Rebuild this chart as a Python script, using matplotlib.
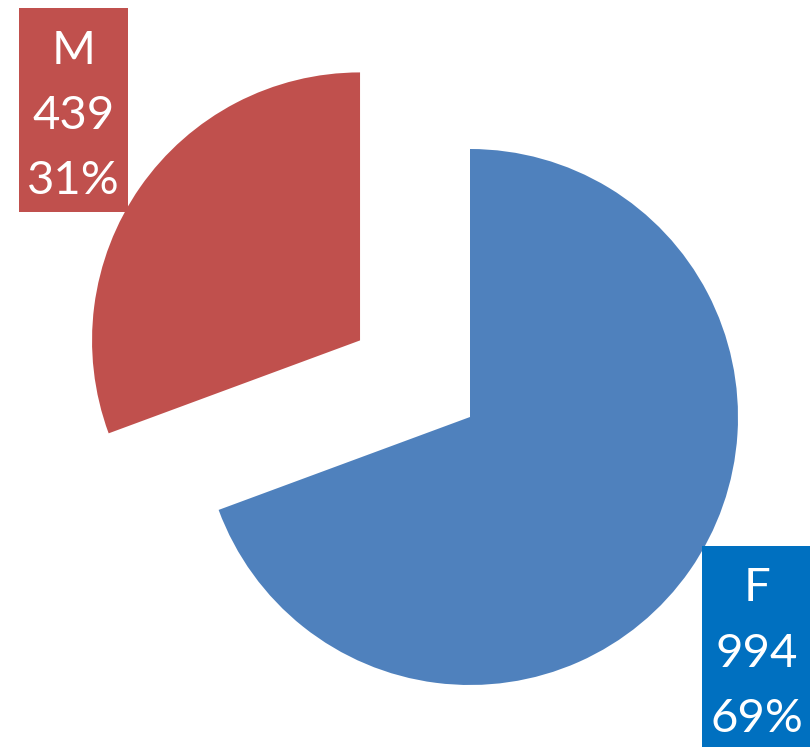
import matplotlib.pyplot as plt
from matplotlib.patches import Rectangle

# data
genders = ['F', 'M']
counts = [994, 439]
slice_colors = ['#4F81BD', '#C0504D']
box_colors = ['#0070C0', '#C0504D']

W, H = 810, 747
R = 268
fig = plt.figure(figsize=(W / 100, H / 100), dpi=100)
ax = fig.add_axes([0, 0, 1, 1])

# pie centre in pixel coords (470, 417), flipped for data coords
# explode is taken in data units here, so scale by the radius
ax.pie(counts, colors=slice_colors, startangle=90, counterclock=False,
       explode=[0, 0.5 * R], radius=R, center=(470, H - 417),
       wedgeprops={'linewidth': 0})
ax.set_xlim(0, W)
ax.set_ylim(0, H)
ax.set_aspect('equal')
ax.axis('off')

total = sum(counts)
# label boxes: (left, top, right, bottom) in pixels, baselines of the 3 lines
boxes = {'M': ((19, 8, 128, 212), [64, 129, 194]),
         'F': ((702, 546, 812, 749), [601, 667, 732])}

for g, c, bc in zip(genders, counts, box_colors):
    (l, t, r, b), bases = boxes[g]
    ax.add_patch(Rectangle((l, H - b), r - l, b - t, color=bc, lw=0, zorder=3))
    lines = [g, str(c), '{:.0f}%'.format(100 * c / total)]
    for txt, yb in zip(lines, bases):
        ax.text((l + r) / 2, H - yb, txt, color='white', fontsize=34,
                family='Lato', ha='center', va='baseline', zorder=4)

fig.savefig('out.png', dpi=100)
